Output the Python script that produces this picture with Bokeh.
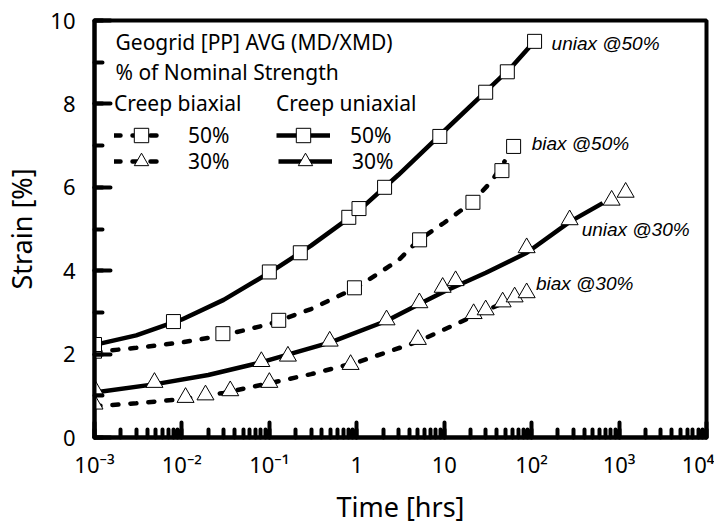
from bokeh.plotting import figure
from bokeh.models import (Range1d, SingleIntervalTicker, LogTicker, CustomJSTickFormatter,
                          Legend, LegendItem, Label)
from bokeh.embed import file_html
from bokeh.resources import INLINE

# ---- marker data (time [hrs], strain [%]) ----
uni50_t = [0.001, 0.008, 0.1, 0.226, 0.81, 1.06, 2.08, 8.9, 29.8, 52.7, 108]
uni50_s = [2.23, 2.78, 3.97, 4.43, 5.28, 5.49, 6.0, 7.22, 8.28, 8.77, 9.5]
bi50_t = [0.001, 0.0294, 0.128, 0.94, 5.23, 21.3, 45.7, 62.2]
bi50_s = [2.07, 2.49, 2.81, 3.59, 4.74, 5.64, 6.4, 6.98]
uni30_t = [0.001, 0.00485, 0.081, 0.163, 0.49, 2.19, 5.2, 9.6, 13.5, 87.7, 272, 822, 1189]
uni30_s = [1.16, 1.32, 1.82, 1.95, 2.31, 2.82, 3.23, 3.6, 3.76, 4.55, 5.22, 5.69, 5.88]
bi30_t = [0.001, 0.011, 0.0186, 0.0357, 0.1, 0.85, 5.0, 21.7, 29.8, 46.6, 63.9, 87.7]
bi30_s = [0.8, 0.96, 1.02, 1.12, 1.32, 1.75, 2.35, 2.97, 3.06, 3.25, 3.37, 3.47]

# ---- fitted curves ----
uni50_fit_t = [0.001, 0.003, 0.01, 0.03, 0.1, 0.3, 1, 3, 10, 30, 60, 108]
uni50_fit_s = [2.22, 2.45, 2.83, 3.3, 3.95, 4.6, 5.4, 6.3, 7.35, 8.3, 8.9, 9.5]
bi50_fit_t = [0.001, 0.003, 0.01, 0.03, 0.1, 0.3, 1, 3, 5, 10, 21, 35, 49]
bi50_fit_s = [2.05, 2.15, 2.28, 2.45, 2.72, 3.08, 3.6, 4.25, 4.72, 5.15, 5.65, 6.15, 6.62]
uni30_fit_t = [0.001, 0.005, 0.02, 0.08, 0.5, 2.2, 5.2, 10, 14, 30, 88, 272, 650]
uni30_fit_s = [1.08, 1.28, 1.5, 1.8, 2.28, 2.8, 3.2, 3.5, 3.64, 3.95, 4.43, 5.17, 5.62]
bi30_fit_t = [0.001, 0.003, 0.01, 0.03, 0.1, 0.3, 1, 5, 20, 50]
bi30_fit_s = [0.75, 0.82, 0.92, 1.07, 1.3, 1.52, 1.8, 2.3, 2.88, 3.25]

x_tick_labels = ["10\u207b\u00b3", "10\u207b\u00b2", "10\u207b\u00b9", "1", "10",
                 "10\u00b2", "10\u00b3", "10\u2074"]

FONT = "Noto Sans"

p = figure(frame_width=612, frame_height=417, x_axis_type="log",
           x_range=Range1d(1e-3, 1e4), y_range=Range1d(0, 10),
           output_backend="svg", toolbar_location=None,
           min_border_left=87, min_border_right=8, min_border_top=20, min_border_bottom=70)
p.grid.visible = False
p.outline_line_color = "black"
p.outline_line_width = 4
p.background_fill_color = "white"
p.border_fill_color = "white"

for ax in (p.xaxis[0], p.yaxis[0]):
    ax.axis_line_width = 4
    ax.major_tick_line_width = 4
    ax.minor_tick_line_width = 4
    ax.major_tick_out = 0
    ax.minor_tick_out = 0
    ax.major_tick_line_cap = "round"
    ax.minor_tick_line_cap = "round"
    ax.major_label_text_font = FONT
    ax.major_label_text_font_size = "22px"
    ax.major_label_text_color = "black"
    ax.axis_label_text_font = FONT
    ax.axis_label_text_font_size = "27px"
    ax.axis_label_text_font_style = "normal"
    ax.axis_label_text_color = "black"

p.xaxis.ticker = LogTicker(num_minor_ticks=10)
p.xaxis.major_tick_in = 15
p.xaxis.minor_tick_in = 8
p.xaxis.major_label_standoff = 11
p.xaxis.axis_label = "Time [hrs]"
p.xaxis.axis_label_standoff = 6
p.xaxis.formatter = CustomJSTickFormatter(args=dict(labels=x_tick_labels), code="""
const e = Math.round(Math.log10(tick)) + 3;
return (e >= 0 && e < labels.length) ? labels[e] : "";
""")

p.yaxis.ticker = SingleIntervalTicker(interval=2, num_minor_ticks=2)
p.yaxis.major_tick_in = 16
p.yaxis.minor_tick_in = 8
p.yaxis.major_label_standoff = 19
p.yaxis.axis_label = "Strain [%]"
p.yaxis.axis_label_standoff = 7

# ---- curves ----
dash = dict(line_color="black", line_width=4.5, line_dash="6 12", line_cap="round")
solid = dict(line_color="black", line_width=4.5)
l_bi50 = p.line(bi50_fit_t, bi50_fit_s, **dash)
l_bi30 = p.line(bi30_fit_t, bi30_fit_s, **dash)
l_uni50 = p.line(uni50_fit_t, uni50_fit_s, **solid)
l_uni30 = p.line(uni30_fit_t, uni30_fit_s, **solid)

sq = dict(marker="square", size=14, fill_color="white", line_color="black", line_width=1)
tri = dict(marker="triangle", size=17, fill_color="white", line_color="black", line_width=1)
m_bi50 = p.scatter(bi50_t, bi50_s, **sq)
m_bi30 = p.scatter(bi30_t, bi30_s, **tri)
m_uni50 = p.scatter(uni50_t, uni50_s, **sq)
m_uni30 = p.scatter(uni30_t, uni30_s, **tri)

# ---- legends (one row each, so the glyph box can be tall enough for full-size markers) ----
def make_legend(title, item, loc):
    kw = dict(items=[item], location=loc,
              label_text_font=FONT, label_text_font_size="21px", label_text_color="black",
              glyph_width=54, glyph_height=36, label_height=36, label_standoff=20,
              spacing=0, padding=0, margin=0,
              border_line_color=None, background_fill_alpha=0)
    if title:
        kw.update(title=title, title_text_font=FONT, title_text_font_size="21px",
                  title_text_font_style="normal", title_text_color="black", title_standoff=0)
    return Legend(**kw)

p.add_layout(make_legend("Creep biaxial", LegendItem(label="50%", renderers=[l_bi50, m_bi50]), (20, 284)))
p.add_layout(make_legend(None, LegendItem(label="30%", renderers=[l_bi30, m_bi30]), (20, 258)))
p.add_layout(make_legend("Creep uniaxial", LegendItem(label="50%", renderers=[l_uni50, m_uni50]), (182, 284)))
p.add_layout(make_legend(None, LegendItem(label="30%", renderers=[l_uni30, m_uni30]), (184, 258)))

for txt, yy in (("Geogrid [PP] AVG (MD/XMD)", 396), ("% of Nominal Strength", 366)):
    p.add_layout(Label(x=21, y=yy, x_units="screen", y_units="screen", text=txt,
                       text_font=FONT, text_font_size="21px", text_color="black",
                       text_baseline="middle", text_align="left"))

for txt, xx, yy in (("uniax @50%", 169, 9.45), ("biax @50%", 100, 7.05),
                    ("uniax @30%", 373, 5.0), ("biax @30%", 112, 3.7)):
    p.add_layout(Label(x=xx, y=yy, text=txt, text_font="Liberation Sans",
                       text_font_size="19px", text_font_style="italic", text_color="black",
                       text_baseline="middle", text_align="left"))

open("out.html", "w").write(file_html(p, INLINE))
